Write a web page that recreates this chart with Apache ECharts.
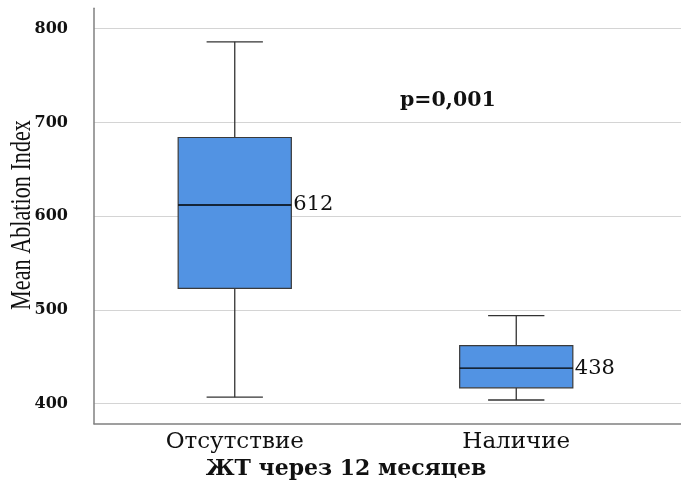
<!DOCTYPE html>
<html><head><meta charset="utf-8">
<script src="https://cdn.jsdelivr.net/npm/echarts@6/dist/echarts.min.js"></script>
<style>html,body{margin:0;padding:0;background:#fff}#c{width:681px;height:486px}</style>
</head><body><div id="c"></div>
<script>
const categories = ['Отсутствие', 'Наличие'];
const whiskerLow = [407, 404];
const q1 = [523, 417];
const median = [612, 438];
const q3 = [684, 462];
const whiskerHigh = [786, 494];
const yTicks = [400, 500, 600, 700, 800];
const yTitle = 'Mean Ablation Index';
const xTitle = 'ЖТ через 12 месяцев';
const pText = 'p=0,001';

const boxData = categories.map((c, i) => [i, whiskerLow[i], q1[i], median[i], q3[i], whiskerHigh[i]]);

const chart = echarts.init(document.getElementById('c'), null, {renderer: 'canvas'});
const serifR = 'DejaVu Serif';
chart.setOption({
  animation: false,
  backgroundColor: '#fff',
  grid: [
    {left: 94, right: 0, top: 28.7, bottom: 82.3},
    {left: 94, right: 24, top: 8.3, bottom: 62.3},
    {left: 94, right: 0, top: 8.3, bottom: 62.3}
  ],
  xAxis: [
    {gridIndex: 0, type: 'value', show: false, min: 0, max: 1},
    {gridIndex: 1, type: 'category', data: categories, boundaryGap: true,
      axisLine: {show: false}, axisTick: {show: false},
      axisLabel: {margin: 7, fontFamily: serifR, fontSize: 23, color: '#111'}},
    {gridIndex: 2, type: 'value', min: 0, max: 1,
      axisLine: {show: true, lineStyle: {color: '#808080', width: 1.5}},
      axisTick: {show: false}, axisLabel: {show: false}, splitLine: {show: false}}
  ],
  yAxis: [
    {gridIndex: 0, type: 'value', min: yTicks[0], max: yTicks[yTicks.length - 1], interval: 100,
      axisLine: {show: false}, axisTick: {show: false},
      axisLabel: {margin: 26, fontFamily: serifR, fontWeight: 'bold', fontSize: 16, color: '#111'},
      splitLine: {show: true, lineStyle: {color: '#d4d4d4', width: 1.2}}},
    {gridIndex: 1, type: 'value', min: 378.7, max: 821.8, show: false},
    {gridIndex: 2, type: 'value', min: 0, max: 1,
      axisLine: {show: true, lineStyle: {color: '#808080', width: 1.5}},
      axisTick: {show: false}, axisLabel: {show: false}, splitLine: {show: false}}
  ],
  series: [{
    type: 'custom',
    xAxisIndex: 1, yAxisIndex: 1,
    data: boxData,
    renderItem: function (params, api) {
      const x = api.value(0);
      const band = api.size([1, 0])[0];
      const bw = band * 0.402, cw = band * 0.2;
      const pLow = api.coord([x, api.value(1)]);
      const pQ1 = api.coord([x, api.value(2)]);
      const pMed = api.coord([x, api.value(3)]);
      const pQ3 = api.coord([x, api.value(4)]);
      const pHigh = api.coord([x, api.value(5)]);
      const cx = pMed[0];
      const lineStyle = {stroke: '#333', lineWidth: 1.3};
      return {type: 'group', children: [
        {type: 'line', shape: {x1: cx, y1: pHigh[1], x2: cx, y2: pQ3[1]}, style: lineStyle},
        {type: 'line', shape: {x1: cx, y1: pQ1[1], x2: cx, y2: pLow[1]}, style: lineStyle},
        {type: 'line', shape: {x1: cx - cw / 2, y1: pHigh[1], x2: cx + cw / 2, y2: pHigh[1]}, style: lineStyle},
        {type: 'line', shape: {x1: cx - cw / 2, y1: pLow[1], x2: cx + cw / 2, y2: pLow[1]}, style: lineStyle},
        {type: 'rect', shape: {x: cx - bw / 2, y: pQ3[1], width: bw, height: pQ1[1] - pQ3[1]},
          style: {fill: '#5293e3', stroke: '#3a3a3a', lineWidth: 1.2}},
        {type: 'line', shape: {x1: cx - bw / 2, y1: pMed[1], x2: cx + bw / 2, y2: pMed[1]},
          style: {stroke: '#000', lineWidth: 1.3}},
        {type: 'text', x: cx + bw / 2 + 2, y: pMed[1],
          style: {text: String(api.value(3)), textAlign: 'left', textVerticalAlign: 'middle',
            font: '21px "' + serifR + '"', fill: '#111'}}
      ]};
    }
  }],
  graphic: [
    {type: 'text', x: 22, y: 215, rotation: Math.PI / 2, scaleX: 0.74, scaleY: 1,
      style: {text: yTitle, textAlign: 'center', textVerticalAlign: 'middle',
        font: '30px "Liberation Serif"', fill: '#111'}},
    {type: 'text', x: 346, y: 469,
      style: {text: xTitle, textAlign: 'center', textVerticalAlign: 'middle',
        font: 'bold 22px "' + serifR + '"', fill: '#111'}},
    {type: 'text', x: 400, y: 101,
      style: {text: pText, textAlign: 'left', textVerticalAlign: 'middle',
        font: 'bold 20.5px "' + serifR + '"', fill: '#111'}}
  ]
});
</script></body></html>
